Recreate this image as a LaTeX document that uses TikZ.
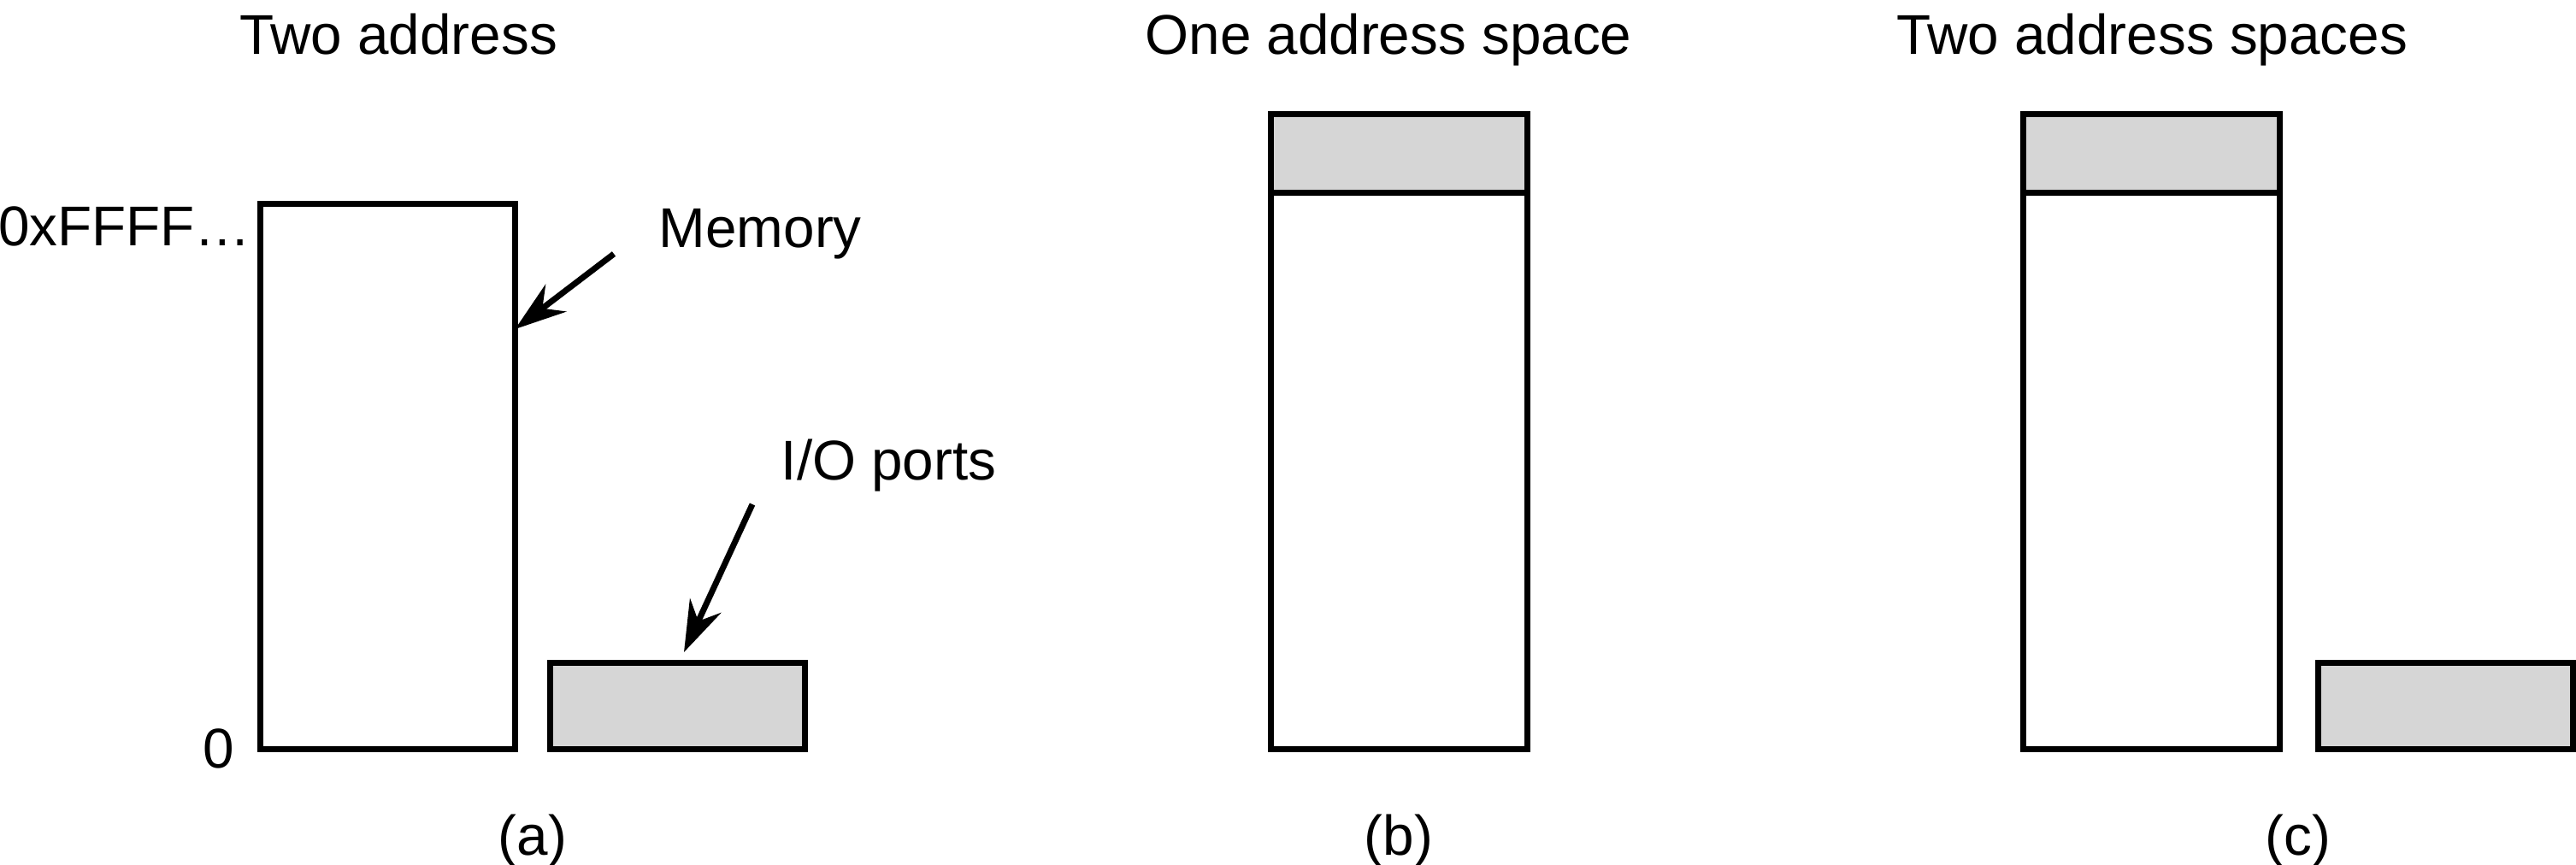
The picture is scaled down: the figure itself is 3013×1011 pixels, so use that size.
\documentclass[tikz,border=0pt]{standalone}
\usepackage{fontspec}
\setmainfont{Liberation Sans}
\usetikzlibrary{arrows.meta}
\definecolor{portgray}{RGB}{214,214,214}
\begin{document}
\begin{tikzpicture}[x=0.25pt,y=-0.25pt,
  lbl/.style={inner sep=0pt, font=\fontsize{16.4}{19}\selectfont},
  box/.style={draw=black, line width=1.75pt, inner sep=0pt, outer sep=0pt, fill=white},
  portbox/.style={box, fill=portgray},
  ptr/.style={line width=1.75pt, -{Stealth[length=15pt,width=10pt,inset=5pt]}}]
\useasboundingbox (0,0) rectangle (3013,1011);
% (a)
\node[box, minimum width=74.5pt, minimum height=159.5pt] (memA) at (453.5,557.5) {};
\node[portbox, minimum width=74.5pt, minimum height=25.25pt] (ioA) at (792.5,826) {};
% (b)
\node[portbox, minimum width=75pt, minimum height=22.875pt] (ioB) at (1636.5,179.25) {};
\node[box, minimum width=75pt, minimum height=162.875pt] (memB) at (1636.5,550.75) {};
% (c)
\node[portbox, minimum width=75pt, minimum height=22.875pt] (ioCtop) at (2516.5,179.25) {};
\node[box, minimum width=75pt, minimum height=162.875pt] (memC) at (2516.5,550.75) {};
\node[portbox, minimum width=74.5pt, minimum height=25.25pt] (ioC) at (2860.5,826) {};
% texts
\node[lbl, anchor=base] (tA) at (466,63) {Two address};
\node[lbl, anchor=base] (tB) at (1624,63) {One address space};
\node[lbl, anchor=base] (tC) at (2517,63) {Two address spaces};
\node[lbl, anchor=base east] (hi) at (294,287) {0xFFFF…};
\node[lbl, anchor=base east] (lo) at (275,898) {0};
\node[lbl, anchor=base west] (memlbl) at (770,289) {Memory};
\node[lbl, anchor=base west] (iolbl) at (913,561) {I/O ports};
\node[lbl, anchor=base] (capA) at (623,1000) {(a)};
\node[lbl, anchor=base] (capB) at (1636,1000) {(b)};
\node[lbl, anchor=base] (capC) at (2688,1000) {(c)};
% arrows
\coordinate (memtail) at (718,297);
\coordinate (memtip) at (memA.east |- 0,385);
\draw[ptr] (memtail) -- (memtip);
\coordinate (iotail) at (880,590);
\coordinate (iotip) at (800,763);
\draw[ptr] (iotail) -- (iotip);
\end{tikzpicture}
\end{document}
